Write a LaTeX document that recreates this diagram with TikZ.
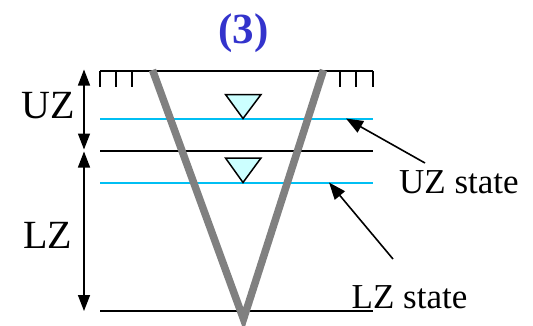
\documentclass[tikz,border=0pt]{standalone}
\usepackage{fontspec}
\setmainfont{Liberation Serif}
\usetikzlibrary{arrows.meta}
\definecolor{wtblue}{RGB}{0,191,243}
\definecolor{trifill}{RGB}{204,255,255}
\definecolor{titleblue}{RGB}{51,51,204}
\definecolor{vgray}{RGB}{128,128,128}
\tikzset{
  ground/.style={line width=2pt,black},
  waterline/.style={line width=2pt,wtblue},
  vline/.style={line width=7.5pt,vgray,line join=miter,miter limit=20},
  marker/.style={draw=black,line width=1.5pt,fill=trifill,line join=miter},
  dimarrow/.style={line width=1.4pt,{Triangle[length=16pt,width=12pt]}-{Triangle[length=16pt,width=12pt]}},
  pointer/.style={line width=1.6pt,-{Triangle[length=17pt,width=13pt]}},
  biglabel/.style={inner sep=0pt,anchor=base west,font=\fontsize{40}{46}\selectfont},
  statelabel/.style={inner sep=0pt,anchor=base west,font=\fontsize{35}{42}\selectfont},
}
\begin{document}
\begin{tikzpicture}[x=1pt,y=-1pt]
\useasboundingbox (0,0) rectangle (533,325);
% title
\node[inner sep=0pt,anchor=base,text=titleblue,font=\bfseries\fontsize{43}{50}\selectfont] (title) at (243.5,43.5) {(3)};
% ground surface with hatching
\draw[ground] (100,71) -- (373,71);
\foreach \x in {100,116,132,340,356,372.5} \draw[ground] (\x,71) -- (\x,87);
% layer boundaries
\draw[waterline] (100,118.5) -- (373,118.5);
\draw[ground] (100,150.5) -- (373,150.5);
\draw[waterline] (100,182.5) -- (373,182.5);
\draw[ground] (100,311) -- (373,311);
% V
\draw[vline] (152.5,70) -- (243.5,319) -- (323.5,70);
% water table markers
\draw[marker] (225.5,94.5) -- (261,94.5) -- (243,118.5) -- cycle;
\draw[marker] (225.5,158) -- (261,158) -- (243,182.5) -- cycle;
% dimension arrows
\coordinate (gtop) at (84,69.5);
\coordinate (gmid1) at (84,149.5);
\coordinate (gmid2) at (84,151.5);
\coordinate (gbot) at (84,311);
\draw[dimarrow] (gtop) -- (gmid1);
\draw[dimarrow] (gmid2) -- (gbot);
\node[biglabel] (uz) at (21.5,118) {UZ};
\node[biglabel] (lz) at (23,248) {LZ};
% state labels and pointers
\node[statelabel] (uzs) at (399,193) {UZ state};
\node[statelabel] (lzs) at (351.5,308) {LZ state};
\coordinate (uzsrc) at (425,163);
\coordinate (uztip) at (346,118.5);
\coordinate (lzsrc) at (393,259);
\coordinate (lztip) at (329,182.5);
\draw[pointer] (uzsrc) -- (uztip);
\draw[pointer] (lzsrc) -- (lztip);
\end{tikzpicture}
\end{document}
